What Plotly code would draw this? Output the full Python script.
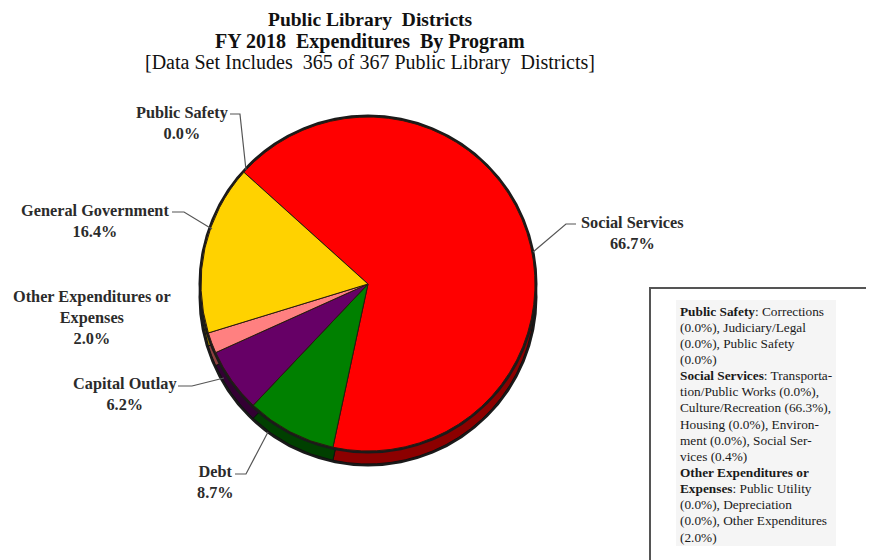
import plotly.graph_objects as go

# Data
programs = ["Public Safety", "Social Services", "Debt", "Capital Outlay",
            "Other Expenditures or<br>Expenses", "General Government"]
shares = [0.0, 66.7, 8.7, 6.2, 2.0, 16.4]

top_colors = ["#3366CC", "#FF0000", "#008000", "#660066", "#FF8080", "#FFD200"]
side_colors = ["#1A3366", "#8C0000", "#004000", "#330033", "#8C4040", "#8C7400"]

breakdown_lines = [
    "<b>Public Safety</b>: Corrections",
    "(0.0%), Judiciary/Legal",
    "(0.0%), Public Safety",
    "(0.0%)",
    "<b>Social Services</b>: Transporta-",
    "tion/Public Works (0.0%),",
    "Culture/Recreation (66.3%),",
    "Housing (0.0%), Environ-",
    "ment (0.0%), Social Ser-",
    "vices (0.4%)",
    "<b>Other Expenditures or</b>",
    "<b>Expenses</b>: Public Utility",
    "(0.0%), Depreciation",
    "(0.0%), Other Expenditures",
    "(2.0%)",
]

W, H = 874, 560
PAGE_MARGIN = 8  # the html body margin shifts the figure
SERIF = "Liberation Serif, Times New Roman, serif"
TEXT = "#2b2b2b"


def px(x):
    return (x - PAGE_MARGIN) / W


def py(y):
    return 1 - (y - PAGE_MARGIN) / H


# pie geometry (window pixels)
cx, cy, r, depth = 368, 284, 167, 13


def disk(offset, rad):
    return dict(x=[px(cx - rad), px(cx + rad)],
                y=[py(cy + offset + rad), py(cy + offset - rad)])


common = dict(sort=False, direction="clockwise", rotation=-48,
              textinfo="none", hoverinfo="label+percent", showlegend=False)

fig = go.Figure()
# side (depth) of the 3d pie
fig.add_trace(go.Pie(labels=["rim"], values=[1], domain=disk(depth, r + 2.5),
                     marker=dict(colors=["#1a1a1a"]), textinfo="none",
                     hoverinfo="skip", showlegend=False))
fig.add_trace(go.Pie(labels=programs, values=shares, domain=disk(depth, r),
                     marker=dict(colors=side_colors, line=dict(color="#111", width=1)),
                     **common))
# top face
fig.add_trace(go.Pie(labels=["edge"], values=[1], domain=disk(0, r + 2.5),
                     marker=dict(colors=["#1a1a1a"]), textinfo="none",
                     hoverinfo="skip", showlegend=False))
fig.add_trace(go.Pie(labels=programs, values=shares, domain=disk(0, r),
                     marker=dict(colors=top_colors, line=dict(color="#2a1a10", width=1)),
                     **common))

# slice labels (text centre in pixels) and their leader lines
label_pos = [(182, 123), (632, 233), (215, 482), (125, 394), (92, 317), (95, 221)]
leaders = [
    [(230, 114), (240, 114), (246, 170)],
    [(576, 224), (566, 224), (533, 252)],
    [(235, 474), (246, 474), (268, 432)],
    [(178, 386), (192, 386), (224, 378)],
    None,
    [(172, 212), (184, 212), (212, 229)],
]

for name, val, (lx, ly) in zip(programs, shares, label_pos):
    fig.add_annotation(x=px(lx), y=py(ly), xref="paper", yref="paper",
                       text=f"<b>{name}<br>{val:.1f}%</b>", showarrow=False,
                       align="center", xanchor="center", yanchor="middle",
                       font=dict(family=SERIF, size=16.3, color=TEXT))

for pts in leaders:
    if pts is None:
        continue
    path = "M " + " L ".join(f"{px(x):.4f},{py(y):.4f}" for x, y in pts)
    fig.add_shape(type="path", path=path, xref="paper", yref="paper",
                  line=dict(color="#555", width=1.2))

# titles (first one pinned to the top edge of the figure)
fig.add_annotation(x=px(370), y=1, xref="paper", yref="paper",
                   text="<b>Public Library  Districts</b>", showarrow=False,
                   xanchor="center", yanchor="top", borderpad=0,
                   font=dict(family=SERIF, size=19.5, color="#111"))
fig.add_annotation(x=px(370), y=py(41), xref="paper", yref="paper",
                   text="<b>FY 2018  Expenditures  By Program</b>", showarrow=False,
                   xanchor="center", yanchor="middle",
                   font=dict(family=SERIF, size=20, color="#111"))
fig.add_annotation(x=px(370), y=py(63), xref="paper", yref="paper",
                   text="[Data Set Includes  365 of 367 Public Library  Districts]",
                   showarrow=False, xanchor="center", yanchor="middle",
                   font=dict(family=SERIF, size=20, color="#111"))

# breakdown text box
fig.add_shape(type="rect", xref="paper", yref="paper",
              x0=px(650), x1=px(890), y0=py(580), y1=py(288),
              line=dict(color="#555", width=2), fillcolor="white")
fig.add_shape(type="rect", xref="paper", yref="paper",
              x0=px(676), x1=px(836), y0=py(546), y1=py(300),
              line=dict(width=0), fillcolor="#f5f5f5")
for i, line in enumerate(breakdown_lines):
    fig.add_annotation(x=px(678), y=py(311 + i * 16.15), xref="paper", yref="paper",
                       text=line, showarrow=False,
                       align="left", xanchor="left", yanchor="middle",
                       font=dict(family=SERIF, size=13.3, color="#1a1a1a"))

fig.update_layout(
    width=W, height=H,
    margin=dict(l=0, r=0, t=0, b=0),
    paper_bgcolor="white",
    plot_bgcolor="white",
)

fig.write_html("out.html")
